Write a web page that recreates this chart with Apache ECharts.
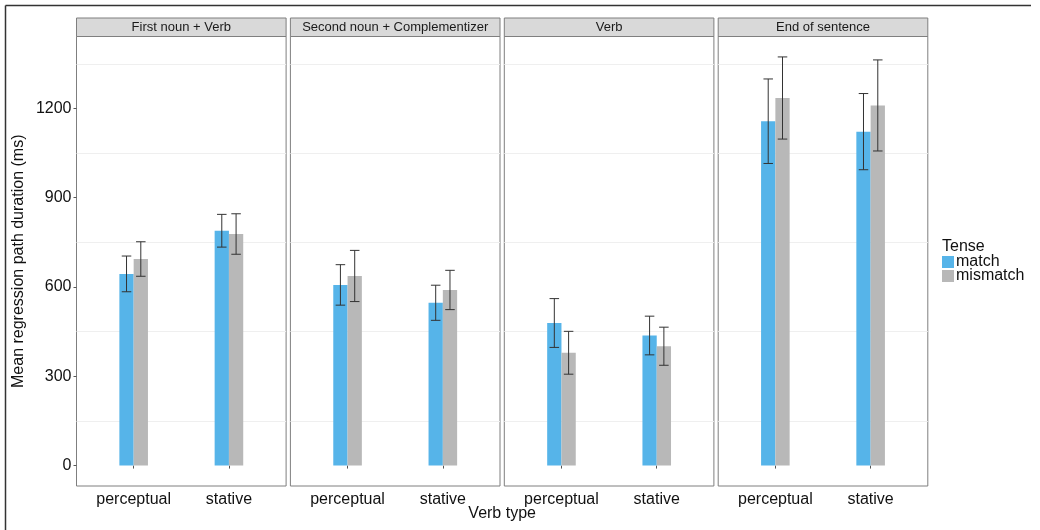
<!DOCTYPE html>
<html>
<head>
<meta charset="utf-8">
<title>Mean regression path duration</title>
<script src="https://cdn.jsdelivr.net/npm/echarts@6/dist/echarts.min.js"></script>
<style>
  html, body { margin: 0; padding: 0; background: #fff; }
  #chart { width: 1040px; height: 530px; }
</style>
</head>
<body>
<div id="chart"></div>
<script>
// Facet panels (sentence regions), x categories and fill groups
const panels = ['First noun + Verb', 'Second noun + Complementizer', 'Verb', 'End of sentence'];
const verbTypes = ['perceptual', 'stative'];
const tenses = ['match', 'mismatch'];

// Mean regression path duration (ms), per panel: [perceptual, stative]
const matchMeans    = [[644, 789], [607, 547], [479, 437], [1157, 1122]];
const mismatchMeans = [[694, 778], [637, 590], [379, 401], [1235, 1210]];

// Error bar half-widths (ms), per panel: [perceptual, stative]
const matchErr    = [[60, 55], [68, 59], [82, 65], [142, 128]];
const mismatchErr = [[58, 68], [86, 66], [72, 64], [138, 153]];

// Y axis tick labels and the light grid lines between them
const yTicks = [0, 300, 600, 900, 1200];
const yGrid  = [150, 450, 750, 1050, 1350];

// ---- layout ----
const PANEL_LEFT = 76.5, PANEL_STEP = 213.9, PANEL_W = 209.6;
const PANEL_TOP = 36.5, PANEL_BOTTOM = 486;
const STRIP_TOP = 18;
const Y_MIN = -68.65, Y_MAX = 1441.65;
const X_MIN = 0.4, X_MAX = 2.6;
const BAR_W = 0.15, CAP_HALF = 0.05;
const COLORS = ['#56B4E9', '#B8B8B8'];
const FONT = '"Liberation Sans", Arial, sans-serif';
const TEXT = '#111';

const means = [matchMeans, mismatchMeans];
const errs = [matchErr, mismatchErr];

const grids = [], xAxes = [], yAxes = [], series = [], graphics = [];

panels.forEach((panel, p) => {
  const left = PANEL_LEFT + p * PANEL_STEP;
  grids.push({
    left: left, top: PANEL_TOP, width: PANEL_W, height: PANEL_BOTTOM - PANEL_TOP,
    show: true, borderColor: '#7f7f7f', borderWidth: 1, backgroundColor: '#fff'
  });
  xAxes.push({
    type: 'value', gridIndex: p, min: X_MIN, max: X_MAX,
    axisLine: { show: false },
    splitLine: { show: false },
    axisTick: { show: true, customValues: [1, 2], length: 3, lineStyle: { color: '#555' } },
    axisLabel: {
      customValues: [1, 2], margin: 6, fontSize: 16, color: TEXT, fontFamily: FONT,
      formatter: v => verbTypes[Math.round(v) - 1]
    }
  });
  const first = p === 0;
  yAxes.push({
    type: 'value', gridIndex: p, min: Y_MIN, max: Y_MAX,
    axisLine: { show: false },
    splitLine: { show: false },
    axisTick: { show: first, customValues: yTicks, length: 3, lineStyle: { color: '#555' } },
    axisLabel: {
      show: first, customValues: yTicks, margin: 5, fontSize: 16, color: TEXT, fontFamily: FONT,
      formatter: v => String(Math.round(v))
    },
    name: first ? 'Mean regression path duration (ms)' : '',
    nameLocation: 'middle', nameGap: 50,
    nameTextStyle: { fontSize: 16, color: TEXT, fontFamily: FONT }
  });

  tenses.forEach((tense, t) => {
    const data = verbTypes.map((_, k) => [k + 1, means[t][p][k], errs[t][p][k]]);
    const s = {
      type: 'custom', name: tense, xAxisIndex: p, yAxisIndex: p, z: 3,
      itemStyle: { color: COLORS[t] },
      data: data,
      renderItem: (params, api) => {
        const x = api.value(0), y = api.value(1), e = api.value(2);
        const x0 = x + (t - 1) * BAR_W, x1 = x + t * BAR_W, cx = (x0 + x1) / 2;
        const a = api.coord([x0, y]), b = api.coord([x1, 0]);
        const top = api.coord([cx, y + e]), bot = api.coord([cx, y - e]);
        const cl = api.coord([cx - CAP_HALF, 0])[0], cr = api.coord([cx + CAP_HALF, 0])[0];
        const stroke = { stroke: '#333', lineWidth: 1 };
        return {
          type: 'group',
          children: [
            { type: 'rect', shape: { x: a[0], y: a[1], width: b[0] - a[0], height: b[1] - a[1] },
              style: { fill: COLORS[t] } },
            { type: 'line', shape: { x1: top[0], y1: top[1], x2: bot[0], y2: bot[1] }, style: stroke, z2: 10 },
            { type: 'line', shape: { x1: cl, y1: top[1], x2: cr, y2: top[1] }, style: stroke, z2: 10 },
            { type: 'line', shape: { x1: cl, y1: bot[1], x2: cr, y2: bot[1] }, style: stroke, z2: 10 }
          ]
        };
      }
    };
    if (t === 0) {
      s.markLine = {
        silent: true, z: 1, symbol: 'none', animation: false,
        label: { show: false },
        lineStyle: { color: '#efefef', width: 1, type: 'solid' },
        data: yGrid.map(v => ({ yAxis: v }))
      };
    }
    series.push(s);
  });

  // facet strip
  graphics.push({
    type: 'rect', z: 10,
    shape: { x: left, y: STRIP_TOP, width: PANEL_W, height: PANEL_TOP - STRIP_TOP },
    style: { fill: '#d9d9d9', stroke: '#7f7f7f', lineWidth: 1 }
  });
  graphics.push({
    type: 'text', z: 11,
    x: left + PANEL_W / 2, y: (STRIP_TOP + PANEL_TOP) / 2 + 0.5,
    style: { text: panel, fontSize: 13, fontFamily: FONT, fill: '#1a1a1a',
             textAlign: 'center', textVerticalAlign: 'middle' }
  });
});

// x axis title
graphics.push({
  type: 'text', x: (PANEL_LEFT + PANEL_LEFT + 3 * PANEL_STEP + PANEL_W) / 2, y: 514,
  style: { text: 'Verb type', fontSize: 16, fontFamily: FONT, fill: TEXT,
           textAlign: 'center', textVerticalAlign: 'middle' }
});
// legend title
graphics.push({
  type: 'text', x: 942, y: 247,
  style: { text: 'Tense', fontSize: 16, fontFamily: FONT, fill: TEXT,
           textAlign: 'left', textVerticalAlign: 'middle' }
});
// outer frame (top and left edges)
graphics.push({ type: 'line', shape: { x1: 5.5, y1: 5.5, x2: 1031, y2: 5.5 }, style: { stroke: '#333', lineWidth: 1.5 } });
graphics.push({ type: 'line', shape: { x1: 5.5, y1: 5.5, x2: 5.5, y2: 530 }, style: { stroke: '#333', lineWidth: 1.5 } });

const chart = echarts.init(document.getElementById('chart'), null, { renderer: 'canvas' });
chart.setOption({
  animation: false,
  backgroundColor: '#fff',
  textStyle: { fontFamily: FONT },
  grid: grids,
  xAxis: xAxes,
  yAxis: yAxes,
  legend: {
    data: tenses, orient: 'vertical', left: 942, top: 254, padding: 0,
    itemWidth: 12, itemHeight: 12, itemGap: -2, icon: 'rect',
    textStyle: { fontSize: 16, color: TEXT, fontFamily: FONT, padding: [0, 0, 0, -3] },
    selectedMode: false
  },
  series: series,
  graphic: graphics
});
</script>
</body>
</html>
